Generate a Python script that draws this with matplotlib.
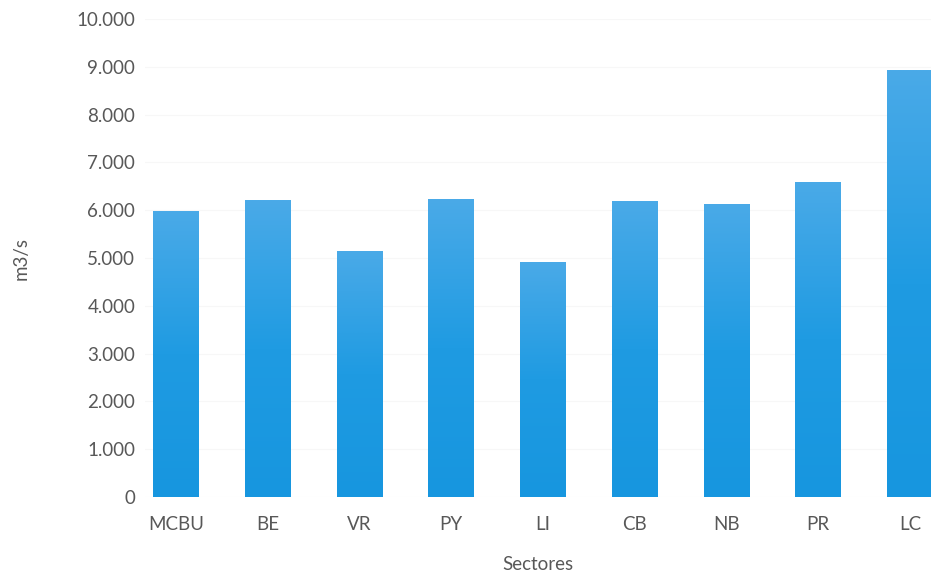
import matplotlib
matplotlib.use("Agg")
import matplotlib.pyplot as plt
import numpy as np
from matplotlib.colors import LinearSegmentedColormap
from matplotlib.ticker import FuncFormatter

sectores = ["MCBU", "BE", "VR", "PY", "LI", "CB", "NB", "PR", "LC"]
caudal = [5980, 6210, 5150, 6230, 4920, 6190, 6130, 6590, 8930]

plt.rcParams["font.family"] = ["Lato", "DejaVu Sans"]
txt = "#585858"

fig = plt.figure(figsize=(9.31, 5.78), dpi=100)
ax = fig.add_axes([145 / 931, 1 - 497 / 578, (931 - 145) / 931, (497 - 19) / 578])

x = np.arange(len(sectores))
bars = ax.bar(x, caudal, width=0.5, color="none", edgecolor="none", zorder=3)

# vertical gradient inside each bar: lighter at the top
cmap = LinearSegmentedColormap.from_list("azul", ["#1796df", "#1f9be2", "#4aaae8"])
grad = np.linspace(0, 1, 256).reshape(-1, 1)
for b in bars:
    x0, y0 = b.get_x(), b.get_y()
    w, h = b.get_width(), b.get_height()
    im = ax.imshow(grad, cmap=cmap, origin="lower", aspect="auto",
                   extent=[x0, x0 + w, y0, y0 + h], zorder=3)
    im.set_clip_path(b)

ax.set_xlim(-0.337, 8.228)
ax.set_ylim(0, 10000)
ax.set_yticks(np.arange(0, 10001, 1000))
ax.yaxis.set_major_formatter(FuncFormatter(lambda v, p: f"{int(v):,}".replace(",", ".")))
ax.set_xticks(x)
ax.set_xticklabels(sectores)
ax.grid(axis="y", color="#f7f7f7", linewidth=0.8, zorder=0)
for s in ax.spines.values():
    s.set_visible(False)
ax.tick_params(axis="both", length=0, labelsize=13.5, labelcolor=txt)
ax.tick_params(axis="y", pad=7)
ax.tick_params(axis="x", pad=14)

ax.set_xlabel("Sectores", fontsize=13.5, color=txt, labelpad=16)
ax.set_ylabel("m3/s", fontsize=13.5, color=txt, labelpad=34)

fig.savefig("out.png", dpi=100)
